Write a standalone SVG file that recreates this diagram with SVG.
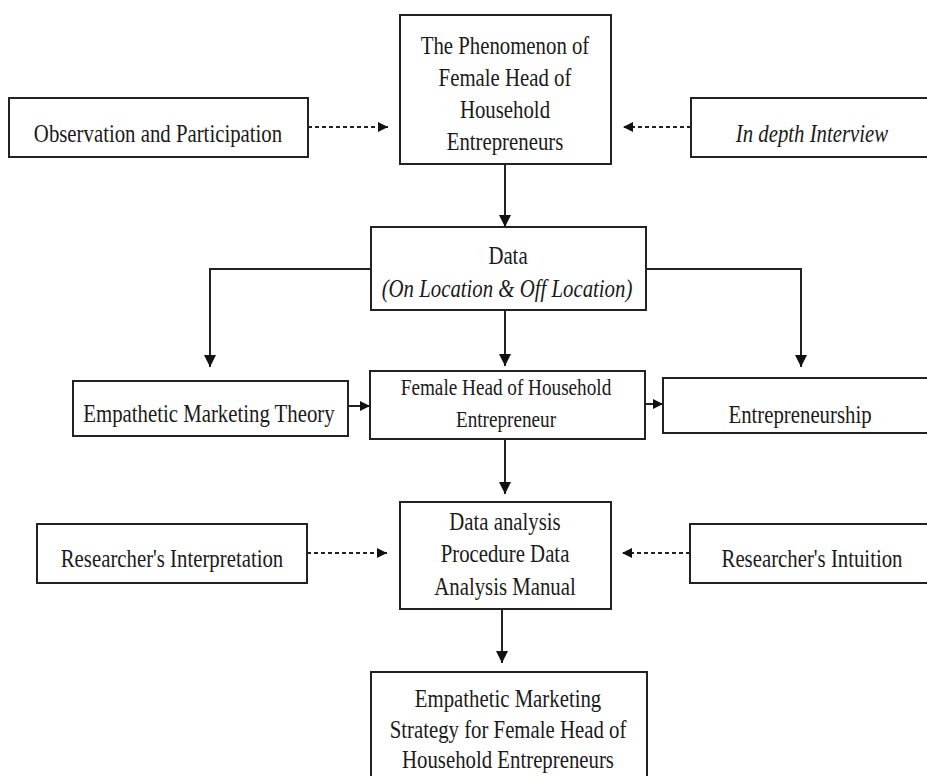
<svg xmlns="http://www.w3.org/2000/svg" width="927" height="776" viewBox="0 0 927 776">
<defs>
<style>
.box{fill:#fff;stroke:#222;stroke-width:2}
.t{font-size:26px;fill:#1a1a1a;text-anchor:middle}
.s{font-size:24px}
.i{font-style:italic}
.c{fill:none;stroke:#222;stroke-width:2}
.d{fill:none;stroke:#222;stroke-width:2;stroke-dasharray:4 3}
</style>
<marker id="ah" viewBox="0 0 10 10" refX="10" refY="5" markerWidth="10" markerHeight="10" markerUnits="userSpaceOnUse" orient="auto">
<path d="M0,0 L10,5 L0,10 z" fill="#111"/>
</marker>
<marker id="ahs" viewBox="0 0 10 10" refX="10" refY="5" markerWidth="12" markerHeight="12" markerUnits="userSpaceOnUse" orient="auto">
<path d="M0,0 L10,5 L0,10 z" fill="#111"/>
</marker>
</defs>
<rect width="927" height="776" fill="#fff"/>

<g id="connectors">
<line class="d" x1="308" y1="127" x2="388" y2="127" marker-end="url(#ah)"/>
<line class="d" x1="691" y1="127" x2="623" y2="127" marker-end="url(#ah)"/>
<line class="c" x1="505" y1="164" x2="505" y2="227" marker-end="url(#ahs)"/>
<polyline class="c" points="371,269 210,269 210,367" marker-end="url(#ahs)"/>
<polyline class="c" points="646,269 801,269 801,367" marker-end="url(#ahs)"/>
<line class="c" x1="505" y1="310" x2="505" y2="366" marker-end="url(#ahs)"/>
<line class="c" x1="348" y1="406" x2="370" y2="406" marker-end="url(#ah)"/>
<line class="c" x1="645" y1="404" x2="663" y2="404" marker-end="url(#ah)"/>
<line class="c" x1="505" y1="439" x2="505" y2="494" marker-end="url(#ahs)"/>
<line class="d" x1="307" y1="553" x2="387" y2="553" marker-end="url(#ah)"/>
<line class="d" x1="690" y1="553" x2="622" y2="553" marker-end="url(#ah)"/>
<line class="c" x1="502" y1="609" x2="502" y2="663" marker-end="url(#ahs)"/>
</g>

<g font-family="Liberation Serif, serif">
<g id="observation">
<rect class="box" x="9" y="98" width="299" height="59"/>
<text class="t" transform="translate(158,142) scale(0.8,1)">Observation and Participation</text>
</g>

<g id="phenomenon">
<rect class="box" x="400" y="15" width="211" height="149"/>
<text class="t" transform="translate(505,54) scale(0.8,1)">The Phenomenon of</text>
<text class="t" transform="translate(505,86) scale(0.8,1)">Female Head of</text>
<text class="t" transform="translate(505,118) scale(0.8,1)">Household</text>
<text class="t" transform="translate(505,150) scale(0.8,1)">Entrepreneurs</text>
</g>

<g id="interview">
<rect class="box" x="691" y="98" width="240" height="59"/>
<text class="t i" transform="translate(812,142) scale(0.8,1)">In depth Interview</text>
</g>

<g id="data">
<rect class="box" x="371" y="227" width="275" height="83"/>
<text class="t" transform="translate(508,264) scale(0.8,1)">Data</text>
<text class="t i" transform="translate(507,297) scale(0.8,1)">(On Location &amp; Off Location)</text>
</g>

<g id="empathetic-theory">
<rect class="box" x="73" y="381" width="275" height="55"/>
<text class="t" transform="translate(209,422) scale(0.8,1)">Empathetic Marketing Theory</text>
</g>

<g id="female-head">
<rect class="box" x="370" y="371" width="275" height="68"/>
<text class="t s" transform="translate(506,395) scale(0.8,1)">Female Head of Household</text>
<text class="t s" transform="translate(506,427) scale(0.8,1)">Entrepreneur</text>
</g>

<g id="entrepreneurship">
<rect class="box" x="663" y="378" width="270" height="55"/>
<text class="t" transform="translate(800,423) scale(0.8,1)">Entrepreneurship</text>
</g>

<g id="interpretation">
<rect class="box" x="37" y="524" width="270" height="59"/>
<text class="t" transform="translate(172,567) scale(0.8,1)">Researcher's Interpretation</text>
</g>

<g id="data-analysis">
<rect class="box" x="400" y="502" width="211" height="107"/>
<text class="t" transform="translate(505,530) scale(0.8,1)">Data analysis</text>
<text class="t" transform="translate(505,562) scale(0.8,1)">Procedure Data</text>
<text class="t" transform="translate(505,595) scale(0.8,1)">Analysis Manual</text>
</g>

<g id="intuition">
<rect class="box" x="690" y="524" width="245" height="59"/>
<text class="t" transform="translate(812,567) scale(0.8,1)">Researcher's Intuition</text>
</g>

<g id="strategy">
<rect class="box" x="371" y="672" width="276" height="110"/>
<text class="t" transform="translate(508,707) scale(0.8,1)">Empathetic Marketing</text>
<text class="t" transform="translate(508,738) scale(0.8,1)">Strategy for Female Head of</text>
<text class="t" transform="translate(508,768) scale(0.8,1)">Household Entrepreneurs</text>
</g>
</g>
</svg>
